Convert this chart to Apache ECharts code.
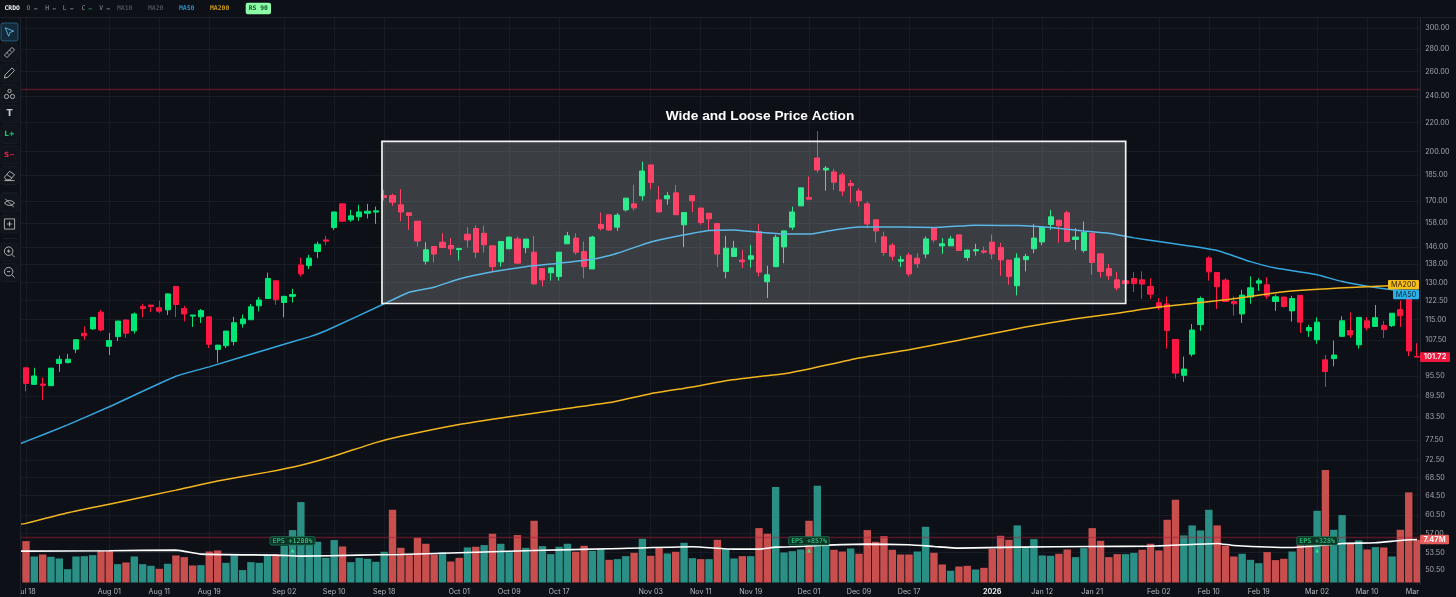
<!DOCTYPE html>
<html><head><meta charset="utf-8">
<style>html,body{margin:0;padding:0;background:#0d1017;}#c{width:1456px;height:597px;}</style>
<script src="https://cdn.jsdelivr.net/npm/echarts@6/dist/echarts.min.js"></script>
</head><body><div id="c"></div>
<script>
const dates = ['Jul 17','Jul 18','Jul 21','Jul 22','Jul 23','Jul 24','Jul 25','Jul 28','Jul 29','Jul 30','Jul 31',
'Aug 01','Aug 04','Aug 05','Aug 06','Aug 07','Aug 08','Aug 11','Aug 12','Aug 13','Aug 14','Aug 15','Aug 18','Aug 19','Aug 20','Aug 21','Aug 22','Aug 25','Aug 26','Aug 27','Aug 28','Aug 29',
'Sep 02','Sep 03','Sep 04','Sep 05','Sep 08','Sep 09','Sep 10','Sep 11','Sep 12','Sep 15','Sep 16','Sep 17','Sep 18','Sep 19','Sep 22','Sep 23','Sep 24','Sep 25','Sep 26','Sep 29','Sep 30',
'Oct 01','Oct 02','Oct 03','Oct 06','Oct 07','Oct 08','Oct 09','Oct 10','Oct 13','Oct 14','Oct 15','Oct 16','Oct 17','Oct 20','Oct 21','Oct 22','Oct 23','Oct 24','Oct 27','Oct 28','Oct 29','Oct 30','Oct 31',
'Nov 03','Nov 04','Nov 05','Nov 06','Nov 07','Nov 10','Nov 11','Nov 12','Nov 13','Nov 14','Nov 17','Nov 18','Nov 19','Nov 20','Nov 21','Nov 24','Nov 25','Nov 26','Nov 28',
'Dec 01','Dec 02','Dec 03','Dec 04','Dec 05','Dec 08','Dec 09','Dec 10','Dec 11','Dec 12','Dec 15','Dec 16','Dec 17','Dec 18','Dec 19','Dec 22','Dec 23','Dec 24','Dec 26','Dec 29','Dec 30','Dec 31',
'Jan 02','Jan 05','Jan 06','Jan 07','Jan 08','Jan 09','Jan 12','Jan 13','Jan 14','Jan 15','Jan 16','Jan 20','Jan 21','Jan 22','Jan 23','Jan 26','Jan 27','Jan 28','Jan 29','Jan 30',
'Feb 02','Feb 03','Feb 04','Feb 05','Feb 06','Feb 09','Feb 10','Feb 11','Feb 12','Feb 13','Feb 17','Feb 18','Feb 19','Feb 20','Feb 23','Feb 24','Feb 25','Feb 26','Feb 27',
'Mar 02','Mar 03','Mar 04','Mar 05','Mar 06','Mar 09','Mar 10','Mar 11','Mar 12','Mar 13','Mar 16','Mar 17','Mar 18'];

const xTickLabels = ['Jul 18','Aug 01','Aug 11','Aug 19','Sep 02','Sep 10','Sep 18','Oct 01','Oct 09','Oct 17','Nov 03','Nov 11','Nov 19','Dec 01','Dec 09','Dec 17','Jan 02','Jan 12','Jan 21','Feb 02','Feb 10','Feb 19','Mar 02','Mar 10','Mar 18'];
const yearLabel = {'Jan 02':'2026'};
const priceTicks = [300,280,260,240,220,200,185,170,158,146,138,130,122.5,115,107.5,95.5,89.5,83.5,77.5,72.5,68.5,64.5,60.5,57,53.5,50.5];

// open, close, low, high (the first bar, Jul 17, lies off the left edge and is not drawn)
const ohlc = ['-',
[98.2,93.3,90.9,98.2],[93.0,95.6,92.8,98.2],[93.1,92.7,88.3,95.1],[92.6,98.1,92.6,98.1],[99.6,101.0,96.9,102.2],[99.9,101.0,99.6,102.8],[104.4,107.7,103.1,107.7],[110.0,109.1,107.7,112.5],[111.6,115.9,111.3,115.9],[117.9,111.2,110.7,118.8],
[105.4,107.4,102.4,110.1],[108.8,114.5,107.2,114.6],[114.9,110.0,108.3,115.3],[110.9,117.2,109.9,117.8],[120.1,119.3,115.9,121.2],[120.7,120.1,117.9,120.7],[119.6,118.3,117.5,122.5],[118.8,125.2,116.8,125.5],[128.3,120.9,116.0,128.3],[119.3,117.2,114.4,120.3],
[116.4,116.8,112.3,116.8],[116.1,118.5,113.8,119.1],[116.1,106.1,104.8,116.1],[104.3,105.8,99.9,105.8],[105.6,110.8,104.8,110.8],[107.1,113.9,105.7,116.1],[113.5,115.3,112.1,117.0],[115.0,120.0,115.0,121.1],[120.4,122.7,118.2,123.9],[123.3,131.7,123.3,134.3],
[130.7,122.8,120.8,130.7],[121.7,124.2,115.9,124.2],[124.2,124.9,121.7,127.3],[137.7,133.7,132.6,141.1],[137.4,140.8,135.8,142.4],[143.9,147.4,140.8,148.7],[149.5,148.9,146.9,151.5],[155.7,163.9,154.4,163.9],[168.3,159.0,158.7,168.3],[159.7,161.8,158.7,165.0],
[161.3,163.9,159.2,167.8],[163.2,164.3,160.4,168.3],[163.8,164.5,157.6,166.8],[172.9,171.9,170.2,176.2],[173.0,169.2,167.2,174.0],[167.8,163.9,159.0,176.6],[163.4,162.0,154.5,163.4],[159.0,149.0,146.3,159.0],[139.4,144.7,137.9,148.4],[146.3,142.7,138.8,146.3],
[148.4,145.8,145.8,152.8],[146.8,145.2,142.2,150.4],[144.8,145.3,139.7,145.7],[152.3,149.5,145.8,155.9],[155.2,143.6,140.8,156.9],[152.8,147.1,143.4,156.7],[146.6,136.9,134.8,146.6],[139.1,148.7,136.9,148.7],[145.2,150.9,145.2,150.9],[150.0,138.5,138.3,151.2],
[145.7,149.9,143.1,149.9],[143.6,129.4,129.0,151.5],[136.1,131.1,128.3,136.1],[134.2,136.4,130.8,136.4],[132.6,143.6,130.8,143.6],[147.6,151.5,147.6,153.5],[150.4,143.6,142.4,152.8],[143.9,136.9,131.8,148.7],[135.9,150.9,135.9,151.5],[157.3,155.2,154.2,163.6],
[162.4,154.4,154.0,162.4],[155.9,162.2,154.0,163.3],[165.0,171.5,164.1,171.5],[168.3,166.1,164.6,179.2],[172.8,187.5,170.1,193.3],[191.3,180.5,176.6,191.3],[170.5,163.9,163.9,178.5],[171.1,172.9,167.8,174.9],[174.5,162.4,162.4,179.1],[157.1,163.6,146.0,163.6],
[172.9,170.0,163.8,172.9],[166.0,158.3,157.1,166.0],[163.2,160.2,154.5,163.2],[157.8,142.7,136.7,157.8],[134.8,145.5,131.8,151.5],[141.6,145.5,141.6,149.0],[139.9,139.1,136.3,144.7],[140.3,141.9,136.5,147.1],[153.6,134.5,132.6,157.5],[130.3,133.3,123.5,137.3],
[136.9,150.8,136.9,152.0],[146.1,154.0,138.5,154.0],[155.9,163.9,154.5,166.8],[167.2,177.4,167.2,177.4],[171.8,170.9,170.9,184.1],[195.7,188.1,186.5,213.8],[188.1,189.2,175.8,190.6],[186.9,180.7,176.2,188.9],[185.1,175.6,172.8,186.5],[179.9,178.7,169.0,182.1],
[175.5,170.0,166.8,177.0],[168.3,157.5,155.4,169.6],[159.7,154.0,148.2,159.7],[151.0,143.4,141.9,153.6],[146.9,141.7,139.7,147.9],[139.4,140.1,136.7,141.9],[142.2,133.7,132.6,143.4],[140.8,138.2,136.3,143.1],[142.7,150.0,140.8,151.2],[155.7,149.5,148.2,155.7],
[146.6,147.6,142.8,150.4],[146.6,150.0,146.6,151.5],[152.0,144.4,144.4,152.0],[141.1,144.6,139.6,144.6],[144.2,144.8,142.0,147.6],[144.2,143.6,142.8,146.3],[148.4,142.8,140.3,152.2],[145.8,140.0,132.9,148.1],[139.9,132.6,129.0,139.9],[128.6,140.8,124.6,143.1],
[140.1,141.6,134.8,142.8],[145.2,150.4,143.1,157.5],[148.5,155.7,146.9,156.2],[157.3,161.3,154.5,165.0],[159.5,156.6,148.2,159.5],[163.4,148.7,148.7,164.6],[149.7,150.9,144.7,155.4],[144.4,153.2,143.4,158.8],[152.8,138.8,133.3,152.8],[142.8,134.8,132.1,142.8],
[136.1,132.9,131.1,138.1],[131.1,127.7,126.6,134.5],[130.7,129.5,129.5,130.7],[131.7,129.5,125.9,134.5],[131.1,129.3,123.1,134.8],[128.3,125.1,123.1,131.8],[121.6,119.6,118.8,123.5],[121.1,111.0,104.6,124.1],[107.8,96.5,94.8,107.8],[95.8,97.8,93.8,101.9],
[102.7,111.2,101.9,113.4],[113.2,123.3,110.9,124.1],[140.9,134.6,130.8,141.6],[134.3,128.2,119.1,134.3],[131.0,122.1,122.1,131.8],[122.1,121.2,116.6,124.1],[117.2,124.7,113.8,126.9],[123.9,127.7,121.2,132.6],[129.7,130.7,126.5,131.8],[129.0,124.3,123.2,132.3],
[122.1,124.0,118.4,124.9],[123.9,120.1,119.7,124.1],[118.4,123.3,114.3,124.4],[124.6,114.1,110.1,124.6],[110.9,112.1,108.7,113.1],[107.7,114.1,106.3,115.9],[100.8,97.0,92.2,102.4],[101.2,102.4,98.7,107.4],[108.9,114.6,108.7,116.3],[111.0,109.4,108.3,117.8],
[105.9,115.9,104.6,115.9],[114.6,112.0,111.0,116.0],[112.5,115.8,112.5,120.7],[112.9,111.3,108.3,114.6],[112.8,117.5,112.3,117.5],[118.9,116.5,112.3,122.5],[123.6,103.8,102.0,123.6],[101.9,101.72,101.7,106.5]];

// volume in millions of shares
const volume = ['-',7.19,4.52,4.87,4.47,4.18,2.32,4.52,4.58,4.76,5.51,5.51,3.19,3.48,4.52,3.19,2.90,2.38,3.25,4.70,4.41,2.96,3.02,5.39,5.57,3.42,4.70,2.15,3.54,3.42,4.87,4.87,6.38,9.11,13.98,6.55,7.08,4.29,7.37,6.26,3.54,4.29,4.12,3.60,
5.34,12.64,6.03,4.76,7.77,6.73,4.87,5.28,3.65,4.29,6.09,6.21,6.50,8.47,6.73,5.28,8.24,6.03,10.73,6.32,4.93,6.21,6.73,5.34,6.38,5.51,5.86,3.94,4.06,4.58,5.16,7.60,4.64,6.09,5.05,5.34,6.90,4.23,4.06,4.06,7.42,5.80,4.18,4.58,4.58,9.45,8.47,16.59,5.22,5.45,5.74,10.73,16.82,6.55,5.68,5.39,5.92,4.99,9.11,7.08,8.06,5.68,4.87,4.87,5.39,
9.69,5.16,3.13,2.03,2.78,2.90,2.26,2.55,5.86,8.12,7.42,9.92,6.15,7.54,4.70,4.64,4.99,5.74,4.41,5.97,9.45,7.25,4.41,4.93,4.93,5.16,5.68,6.73,5.57,10.90,14.38,8.18,9.92,9.05,12.64,9.92,6.38,4.52,4.99,3.94,3.36,5.28,3.89,4.12,5.39,6.55,6.55,12.47,19.55,9.16,11.72,6.73,7.31,5.74,6.15,6.09,4.52,9.16,15.66,7.42];
const volumeUp = [0,0,1,0,1,1,1,1,1,1,0,0,1,0,1,1,1,0,1,0,0,0,1,0,0,1,1,1,1,1,1,0,1,1,1,1,1,1,1,0,1,1,1,1,
1,0,0,0,0,0,0,1,0,0,1,0,1,0,1,1,0,1,0,1,1,1,1,0,0,1,1,0,1,1,0,1,0,0,1,0,1,1,0,1,0,1,1,0,1,0,0,1,1,1,1,0,1,1,0,0,1,0,0,0,0,0,0,0,1,
1,0,0,1,0,0,1,0,0,0,0,1,1,1,1,1,0,0,1,1,0,0,0,0,1,1,0,0,0,0,0,1,1,1,1,0,0,0,1,1,1,0,0,0,1,0,0,1,0,1,1,0,1,0,1,0,1,0,0,0];

// readings of the moving averages: [date, value]
const ma50Dates = ['Jul 17','Jul 18','Jul 25','Aug 01','Aug 13','Aug 19','Aug 28','Sep 05','Sep 09','Sep 18','Sep 23','Sep 26','Oct 01','Oct 07','Oct 13','Oct 17','Oct 23','Oct 28','Nov 03','Nov 06','Nov 12','Nov 17','Nov 20','Nov 25','Dec 01','Dec 04','Dec 09','Dec 16','Dec 22','Dec 30','Jan 07','Jan 13','Jan 20','Jan 23','Jan 28','Feb 02','Feb 11','Feb 18','Feb 23','Mar 02','Mar 05','Mar 11','Mar 18'];
const ma50Values = [76.3,77.1,81.4,86.4,95.5,98.5,104.4,108.7,110.9,121.2,125.9,128.0,131.5,134.6,136.9,138.5,140.3,143.1,148.5,151.2,154.2,154.5,153.3,152.4,152.4,154.5,156.0,156.0,155.7,156.9,156.7,155.7,154.0,152.8,150.5,148.7,144.4,139.2,136.3,133.3,130.4,127.9,125.7];
const ma200Dates = ['Jul 17','Jul 18','Jul 25','Aug 04','Aug 13','Aug 20','Aug 28','Sep 04','Sep 10','Sep 17','Sep 22','Oct 01','Oct 09','Oct 17','Oct 27','Nov 03','Nov 10','Nov 14','Nov 20','Nov 25','Dec 01','Dec 09','Dec 17','Dec 26','Jan 05','Jan 08','Jan 16','Jan 26','Feb 02','Feb 12','Feb 24','Mar 06','Mar 18'];
const ma200Values = [58.7,58.9,61.0,63.1,65.7,67.7,69.7,71.3,73.5,76.8,78.4,81.5,83.6,85.6,87.6,90.2,92.2,94.1,95.4,96.3,97.8,101.4,104.2,107.5,110.5,112.3,115.4,117.5,119.9,122.8,126.1,127.9,129.0];
const volMaDates = ['Jul 17','Jul 18','Aug 01','Aug 13','Aug 18','Aug 29','Sep 04','Sep 15','Sep 22','Oct 14','Oct 27','Nov 10','Nov 17','Nov 20','Nov 24','Nov 28','Dec 02','Dec 10','Dec 17','Dec 22','Dec 26','Jan 07','Jan 21','Jan 30','Feb 05','Feb 11','Feb 13','Feb 25','Mar 02','Mar 05','Mar 11','Mar 16','Mar 18'];
const volMaValues = [5.45,5.45,5.51,5.63,4.93,4.76,4.58,4.76,4.87,5.57,5.86,6.21,5.80,5.80,6.15,6.26,6.44,6.67,6.55,6.26,5.97,6.15,6.26,6.32,6.55,6.79,6.44,6.09,6.38,6.79,6.90,7.31,7.47];

const alertLevels = [245.6, 56.3];
const epsTags = [['Sep 03','EPS +1200%'],['Dec 01','EPS +857%'],['Mar 02','EPS +328%']];
const titleText = 'Wide and Loose Price Action';

const BG='#0d1017', GRID='#171b23', UP='#00e676', DOWN='#ff1744', LABEL='#a4a7ad';
const tickSet = new Set(xTickLabels);
const isTick = (i, v) => tickSet.has(v);
const zip = (a,b) => a.map((d,i)=>[d,b[i]]);

const chart = echarts.init(document.getElementById('c'), null, {renderer:'canvas'});
const gridLeft = 13.5, gridWidth = 1407.73;
const lineOpts = {showSymbol:false,smooth:0.15};
const option = {
  animation:false, backgroundColor:BG,
  grid:[{left:gridLeft,width:gridWidth,top:17,height:568,containLabel:false},
        {left:gridLeft,width:gridWidth,top:470,height:112.5,containLabel:false}],
  xAxis:[
    {type:'category',gridIndex:0,data:dates,boundaryGap:true,axisLine:{show:false},axisTick:{show:false,alignWithLabel:true,interval:isTick},axisLabel:{show:false,interval:isTick},
     splitLine:{show:true,interval:isTick,alignWithLabel:true,lineStyle:{color:GRID,width:1}}},
    {type:'category',gridIndex:1,data:dates,boundaryGap:true,axisLine:{show:false},axisTick:{show:false},splitLine:{show:false},
     axisLabel:{show:true,interval:isTick,margin:6,hideOverlap:false,color:'#b4b7bc',fontFamily:'Inter',fontSize:7.2,
       formatter:v=>yearLabel[v]?'{y|'+yearLabel[v]+'}':v,rich:{y:{fontFamily:'Inter',fontSize:7.2,fontWeight:'bold',color:'#e4e6ea'}}}}
  ],
  yAxis:[
    {type:'log',logBase:Math.E,gridIndex:0,position:'right',min:48.1,max:311,axisLine:{show:false},
     axisTick:{show:false,customValues:priceTicks},
     axisLabel:{show:true,customValues:priceTicks,margin:4,color:LABEL,fontFamily:'Inter',fontSize:7.2,hideOverlap:false,formatter:v=>Number(v).toFixed(2)},
     splitLine:{show:true,lineStyle:{color:GRID,width:1}}},
    {type:'value',gridIndex:1,min:0,max:19.55,show:false,splitLine:{show:false}}
  ],
  series:[
    {name:'Volume',type:'bar',xAxisIndex:1,yAxisIndex:1,barWidth:7.4,z:1,
     data:volume.map((v,i)=>({value:v,itemStyle:{color:volumeUp[i]?'#2a8f85':'#c94f4f'}}))},
    {name:'Volume MA',type:'line',xAxisIndex:1,yAxisIndex:1,data:zip(volMaDates,volMaValues),...lineOpts,z:3,lineStyle:{color:'#ffffff',width:1.6}},
    {name:'CRDO',type:'candlestick',xAxisIndex:0,yAxisIndex:0,data:ohlc,barWidth:5.6,z:2,
     itemStyle:{color:UP,color0:DOWN,borderColor:UP,borderColor0:DOWN,borderWidth:1}},
    {name:'MA50',type:'line',xAxisIndex:0,yAxisIndex:0,data:zip(ma50Dates,ma50Values),...lineOpts,z:3,lineStyle:{color:'#35a8e0',width:1.5}},
    {name:'MA200',type:'line',xAxisIndex:0,yAxisIndex:0,data:zip(ma200Dates,ma200Values),...lineOpts,z:3,lineStyle:{color:'#f3b61f',width:1.5},
     markLine:{silent:true,symbol:'none',z:4,label:{show:false},lineStyle:{type:[1,1],color:'#a51f38',width:1.4,opacity:1},data:alertLevels.map(v=>({yAxis:v}))}}
  ]
};
chart.setOption(option);

const yP = v => chart.convertToPixel({yAxisIndex:0}, v);
const yV = v => chart.convertToPixel({yAxisIndex:1}, v);
const xV = d => chart.convertToPixel({xAxisIndex:1}, d);
const MONO = '"DejaVu Sans Mono"';
const el = [];
const text=(x,y,t,fill,size,font,weight,align)=>el.push({type:'text',x,y,silent:true,style:{text:t,fill,fontSize:size,fontFamily:font||MONO,fontWeight:weight||'bold',align:align||'left',verticalAlign:'middle'}});
const rect=(x,y,w,h,fill,stroke,lw,r)=>el.push({type:'rect',silent:true,shape:{x,y,width:w,height:h,r:r||0},style:{fill:fill||'none',stroke:stroke||'none',lineWidth:lw||0}});
const tag=(x0,x1,yc,h,fill,t,tc,font,size,weight)=>{rect(x0,yc-h/2,x1-x0,h,fill,null,0,1);text((x0+x1)/2,yc,t,tc,size,font,weight,'center');};

// the highlighted region and its caption
rect(382,141.3,743.7,162.2,'rgba(255,255,255,0.19)','#f2f2f2',1.7);
text(760,116,titleText,'#ffffff',13.7,'"Liberation Sans"','bold','center');

// EPS tags
epsTags.forEach(([d,t])=>{
  const x=xV(d);
  const w=t.length*4.3+2;
  rect(x-w/2,536.7,w,8.3,'#0d3326','#1d7a50',0.8,1.5);
  text(x,541,t,'#35e08c',6.6,MONO,'normal','center');
  el.push({type:'polygon',silent:true,shape:{points:[[x,548.5],[x+2,552.5],[x-2,552.5]]},style:{fill:'#35e08c'}});
});

// frame lines, masks for clipped text, panels
el.push({type:'line',silent:true,shape:{x1:1420.5,y1:17,x2:1420.5,y2:585},style:{stroke:'#242832',lineWidth:1}});
rect(1420.5,585,36,12,BG);
rect(0,17,20.5,580,BG);
rect(0,0,1456,17,BG);
el.push({type:'line',silent:true,shape:{x1:0,y1:17.5,x2:1456,y2:17.5},style:{stroke:'#1c2029',lineWidth:1}});
el.push({type:'line',silent:true,shape:{x1:20.5,y1:17,x2:20.5,y2:597},style:{stroke:'#1f232d',lineWidth:1}});

// tags on the price scale
tag(1388,1419,yP(129.0),9.4,'#f7bd1c','MA200','#2a2206','Inter',7.2,'normal');
tag(1393,1419,yP(129.0)+9.7,9.4,'#2ab1ec','MA50','#08222f','Inter',7.2,'normal');
tag(1420,1450,yP(101.72),9.6,'#f0173f','101.72','#ffe3e8','Inter',7.4,'bold');
tag(1420,1449,yV(7.47),9.4,'#e35d5d','7.47M','#fff2f2','Inter',7.4,'bold');

// header
text(4.5,8.8,'CRDO','#f2f3f5',6.4);
[['O',26.5],['H',45.3],['L',62.8],['C',81.5],['V',99.3]].forEach(([t,x])=>{text(x,8.8,t,'#8e9197',6.4,MONO,'normal');});
[[34,'#8e9197'],[52.5,'#8e9197'],[70,'#8e9197'],[88.5,'#2aa06a'],[106.5,'#8e9197']].forEach(([x,c])=>rect(x,8.5,3.5,.8,c));
text(117,8.8,'MA10','#4b4e55',6.4);
text(148,8.8,'MA20','#4b4e55',6.4);
text(179,8.8,'MA50','#2690c8',6.4);
text(210,8.8,'MA200','#c99a16',6.4);
rect(245.7,2.7,25.3,11.6,'#8dfca6',null,0,2);
text(258.3,8.7,'RS 90','#14522a',6.4,MONO,'bold','center');

// toolbar
const ICON='#c4c7cc';
const btn=(yc,active)=>rect(1,yc-9,17,18,active?'#122a3a':'#10141b',active?'#2b6b8e':'#1a1e27',.8,2);
const icons={
  cursor:'M2 2 L12 6 L7.5 7.5 L6 12 Z',
  ruler:'M1 10 L10 1 L13 4 L4 13 Z M4 7 L6 9 M7 4 L9 6',
  pencil:'M1 13 L2 9 L10 1 L13 4 L5 12 Z',
  shapes:'M5 4 A2 2 0 1 1 9 4 A2 2 0 1 1 5 4 Z M1 10.5 A2.5 2.5 0 1 1 6 10.5 A2.5 2.5 0 1 1 1 10.5 Z M8 10.5 A2.5 2.5 0 1 1 13 10.5 A2.5 2.5 0 1 1 8 10.5 Z',
  eraser:'M1 9 L7 2 L13 6 L8 12 L3 12 Z M4 6 L10 10 M1 13 L13 13',
  eye:'M1 7 Q7 1 13 7 Q7 13 1 7 Z M2 2 L12 12',
  plusbox:'M1 1 L13 1 L13 13 L1 13 Z M7 4 L7 10 M4 7 L10 7',
  zoomin:'M1 6 A5 5 0 1 1 11 6 A5 5 0 1 1 1 6 Z M9.5 9.5 L13 13 M6 4 L6 8 M4 6 L8 6',
  zoomout:'M1 6 A5 5 0 1 1 11 6 A5 5 0 1 1 1 6 Z M9.5 9.5 L13 13 M4 6 L8 6'
};
Object.keys(icons).forEach(k=>echarts.graphic.registerShape('ic_'+k, echarts.graphic.extendPath(icons[k],{})));
const icon=(k,yc,stroke)=>el.push({type:'ic_'+k,silent:true,x:3.55,y:yc-5.95,scaleX:.85,scaleY:.85,style:{fill:'none',stroke,lineWidth:1}});
[32,52.5,73,93.5,114,134.5,155,175.5,203,224,252,272.5].forEach((y,i)=>btn(y,i===0));
icon('cursor',32,'#5cc0ee');
icon('ruler',52.5,ICON);
icon('pencil',73,ICON);
icon('shapes',93.5,ICON);
text(9.5,114,'T',ICON,9,'"DejaVu Sans"','bold','center');
text(9.5,134.5,'L+','#18c874',7.2,'"DejaVu Sans"','bold','center');
text(9.5,155,'S−','#e8264c',7.2,'"DejaVu Sans"','bold','center');
icon('eraser',175.5,ICON);
icon('eye',203,ICON);
icon('plusbox',224,ICON);
icon('zoomin',252,ICON);
icon('zoomout',272.5,ICON);
[192.5,238].forEach(y=>rect(3,y,14,.8,'#20242e'));

el.forEach(e=>{e.z=100;});
chart.setOption({graphic:{elements:el}});
</script></body></html>
